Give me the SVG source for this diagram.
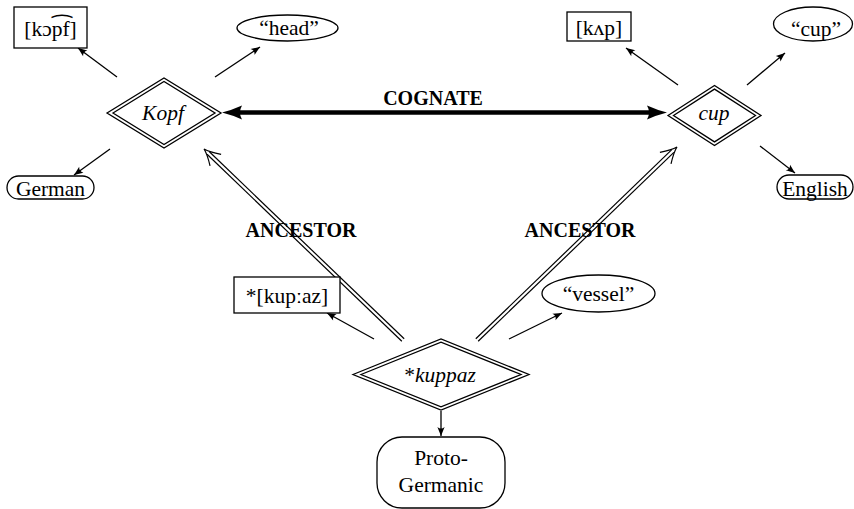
<svg xmlns="http://www.w3.org/2000/svg" width="854" height="509" viewBox="0 0 854 509">
  <style>
    .shape { fill: #fff; stroke: #000; stroke-width: 1.3; }
    .dia { fill: none; stroke: #000; stroke-width: 1.3; }
    .thin { fill: none; stroke: #000; stroke-width: 1.3; marker-end: url(#tip); }
    .dbl { fill: none; stroke: #000; stroke-width: 1.2; }
  </style>
  <defs>
    <marker id="tip" viewBox="-10 -5 11 10" refX="0" refY="0" markerWidth="11" markerHeight="10" markerUnits="userSpaceOnUse" orient="auto">
      <path d="M0,0 L-9,-3.6 Q-6,0 -9,3.6 Z" fill="#000"/>
    </marker>
  </defs>
  <rect width="854" height="509" fill="#fff"/>

  <g font-family="Liberation Serif, Times New Roman, Times, DejaVu Serif, serif" text-anchor="middle" fill="#000">
  <!-- connectors -->
  <g id="connectors">
    <!-- cognate link -->
    <line x1="238" y1="112.5" x2="651" y2="112.5" stroke="#000" stroke-width="4.5"/>
    <path d="M222,112.5 Q232,110 242,105.5 Q238,112.5 242,119.5 Q232,115 222,112.5 Z" fill="#000"/>
    <path d="M667,112.5 Q657,110 647,105.5 Q651,112.5 647,119.5 Q657,115 667,112.5 Z" fill="#000"/>
    <text x="433" y="105" font-size="20" font-weight="bold">COGNATE</text>

    <!-- ancestor links (double lines) -->
    <g transform="translate(403,340) rotate(-136.17)">
      <line class="dbl" x1="0" y1="-1.7" x2="270" y2="-1.7"/>
      <line class="dbl" x1="0" y1="1.7" x2="270" y2="1.7"/>
      <path class="dbl" d="M259.8,-8 Q269.8,-1.5 275.8,0 Q269.8,1.5 259.8,8"/>
    </g>
    <g transform="translate(477,340) rotate(-43.98)">
      <line class="dbl" x1="0" y1="-1.7" x2="272" y2="-1.7"/>
      <line class="dbl" x1="0" y1="1.7" x2="272" y2="1.7"/>
      <path class="dbl" d="M261.9,-8 Q271.9,-1.5 277.9,0 Q271.9,1.5 261.9,8"/>
    </g>
    <text x="301" y="237" font-size="20" font-weight="bold">ANCESTOR</text>
    <text x="580" y="237" font-size="20" font-weight="bold">ANCESTOR</text>

    <!-- attribute arrows -->
    <line class="thin" x1="117" y1="77" x2="78" y2="48"/>
    <line class="thin" x1="215" y1="77" x2="260" y2="47"/>
    <line class="thin" x1="110" y1="149" x2="74" y2="175"/>
    <line class="thin" x1="678" y1="85" x2="626" y2="48"/>
    <line class="thin" x1="747" y1="85" x2="785" y2="53"/>
    <line class="thin" x1="760" y1="146" x2="795" y2="173"/>
    <line class="thin" x1="374" y1="339" x2="327" y2="313"/>
    <line class="thin" x1="509" y1="339" x2="562" y2="313"/>
    <line class="thin" x1="441" y1="411" x2="441" y2="436"/>
  </g>

  <g font-size="21.5">
  <!-- German word -->
  <g id="kopf">
    <polygon class="dia" points="107,113 164,78 221,113 164,148"/>
    <polygon class="dia" points="113,113 164,81.5 215,113 164,144.5"/>
    <text x="163" y="119.5" font-style="italic">Kopf</text>
  </g>
  <g id="kopf-ipa">
    <rect class="shape" x="14" y="7" width="73" height="41"/>
    <!-- transcription with a tie bar over the affricate pf -->
    <text x="50.5" y="36">[kɔpf]<tspan x="62" y="34" font-family="DejaVu Serif, DejaVu Sans, serif" textLength="19" lengthAdjust="spacingAndGlyphs">⁀</tspan></text>
  </g>
  <g id="kopf-meaning">
    <ellipse class="shape" cx="287.5" cy="28" rx="50.5" ry="13"/>
    <text x="289" y="35">“head”</text>
  </g>
  <g id="german">
    <rect class="shape" x="7" y="176" width="87" height="23" rx="11.5"/>
    <text x="50.5" y="196">German</text>
  </g>

  <!-- English word -->
  <g id="cup">
    <polygon class="dia" points="668,115.5 714.5,85.5 761,115.5 714.5,145.5"/>
    <polygon class="dia" points="673.5,115.5 714.5,89.1 755.5,115.5 714.5,141.9"/>
    <text x="714" y="120" font-style="italic">cup</text>
  </g>
  <g id="cup-ipa">
    <rect class="shape" x="567" y="12" width="64" height="29"/>
    <text x="599" y="35">[kʌp]</text>
  </g>
  <g id="cup-meaning">
    <ellipse class="shape" cx="813" cy="24" rx="39.5" ry="17"/>
    <text x="816" y="36">“cup”</text>
  </g>
  <g id="english">
    <rect class="shape" x="777" y="175" width="76" height="24" rx="12"/>
    <text x="815" y="196">English</text>
  </g>

  <!-- Proto-Germanic word -->
  <g id="kuppaz">
    <polygon class="dia" points="353,374.5 441,339 529,374.5 441,410"/>
    <polygon class="dia" points="361,374.5 441,342.2 521,374.5 441,406.8"/>
    <text x="440" y="382">*<tspan font-style="italic">kuppaz</tspan></text>
  </g>
  <g id="kuppaz-ipa">
    <rect class="shape" x="234" y="277" width="106" height="36"/>
    <text x="287" y="302.5">*[kupːaz]</text>
  </g>
  <g id="kuppaz-meaning">
    <ellipse class="shape" cx="598.5" cy="293.5" rx="56.5" ry="18.5"/>
    <text x="598.5" y="300.5">“vessel”</text>
  </g>
  <g id="proto-germanic">
    <rect class="shape" x="377" y="437" width="128" height="71" rx="25"/>
    <text x="441" y="465">Proto-</text>
    <text x="441" y="492">Germanic</text>
  </g>
  </g>
  </g>
</svg>
